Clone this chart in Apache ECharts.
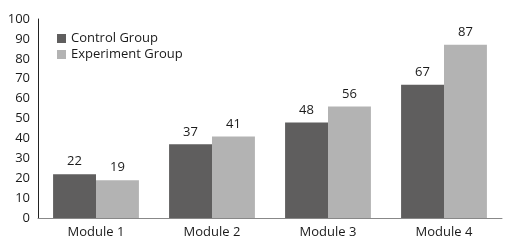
<!DOCTYPE html>
<html><head><meta charset="utf-8">
<script src="https://cdn.jsdelivr.net/npm/echarts@6/dist/echarts.min.js"></script>
<style>html,body{margin:0;padding:0;background:#fff}#c{width:508px;height:245px}</style>
</head><body><div id="c"></div>
<script>
const categories = ['Module 1', 'Module 2', 'Module 3', 'Module 4'];
const controlGroup = [22, 37, 48, 67];
const experimentGroup = [19, 41, 56, 87];
const seriesNames = ['Control Group', 'Experiment Group'];

const font = '"Open Sans", "Noto Sans", sans-serif';
const chart = echarts.init(document.getElementById('c'), null, {renderer: 'canvas'});
chart.setOption({
  animation: false,
  backgroundColor: '#fff',
  textStyle: {fontFamily: font},
  legend: {
    orient: 'vertical', left: 52, top: 27,
    itemWidth: 9, itemHeight: 9, itemGap: 3,
    icon: 'rect',
    textStyle: {fontFamily: font, fontSize: 13, color: '#1a1a1a'},
    data: seriesNames
  },
  grid: {left: 38, right: 6, top: 19, bottom: 27, containLabel: false},
  xAxis: {
    type: 'category', data: categories,
    axisTick: {show: false},
    axisLine: {lineStyle: {color: '#888', width: 1}},
    axisLabel: {fontFamily: font, fontSize: 13, color: '#1a1a1a', margin: 8}
  },
  yAxis: {
    type: 'value', min: 0, max: 100, interval: 10,
    splitLine: {show: false},
    axisLine: {show: true, lineStyle: {color: '#222', width: 1}},
    axisTick: {show: false},
    axisLabel: {fontFamily: font, fontSize: 13, color: '#1a1a1a', margin: 8}
  },
  series: [
    {name: seriesNames[0], type: 'bar', data: controlGroup, barGap: '0%', barCategoryGap: '26%',
     itemStyle: {color: '#5f5e5e'},
     label: {show: true, position: 'top', distance: 6, fontFamily: font, fontSize: 13, color: '#1a1a1a'}},
    {name: seriesNames[1], type: 'bar', data: experimentGroup,
     itemStyle: {color: '#b3b3b3'},
     label: {show: true, position: 'top', distance: 6, fontFamily: font, fontSize: 13, color: '#1a1a1a'}}
  ]
});
</script></body></html>
